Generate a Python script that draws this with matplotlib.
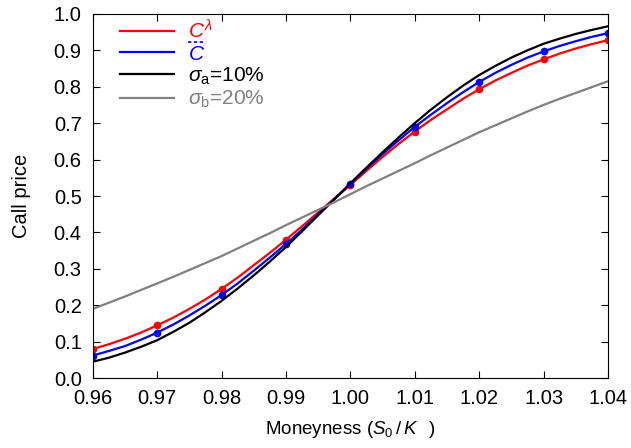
import matplotlib
matplotlib.use("Agg")
import matplotlib.pyplot as plt
from matplotlib.lines import Line2D
from matplotlib.ticker import FormatStrFormatter

plt.rcParams["font.family"] = ["Liberation Sans", "DejaVu Sans"]
plt.rcParams["mathtext.fontset"] = "custom"
plt.rcParams["mathtext.rm"] = "Liberation Sans"
plt.rcParams["mathtext.it"] = "Liberation Sans:italic"
plt.rcParams["mathtext.bf"] = "Liberation Sans:bold"

# curves every 0.0025 in moneyness
moneyness = [0.9600, 0.9625, 0.9650, 0.9675, 0.9700, 0.9725, 0.9750, 0.9775,
             0.9800, 0.9825, 0.9850, 0.9875, 0.9900, 0.9925, 0.9950, 0.9975,
             1.0000, 1.0025, 1.0050, 1.0075, 1.0100, 1.0125, 1.0150, 1.0175,
             1.0200, 1.0225, 1.0250, 1.0275, 1.0300, 1.0325, 1.0350, 1.0375,
             1.0400]
c_lambda = [0.080, 0.093, 0.108, 0.125, 0.145, 0.166, 0.190, 0.216,
            0.245, 0.276, 0.310, 0.344, 0.380, 0.417, 0.455, 0.493,
            0.530, 0.569, 0.607, 0.643, 0.677, 0.709, 0.738, 0.767,
            0.793, 0.817, 0.838, 0.858, 0.875, 0.891, 0.905, 0.917,
            0.928]
c_bar = [0.062, 0.0745, 0.088, 0.1055, 0.125, 0.147, 0.172, 0.199,
         0.228, 0.260, 0.295, 0.331, 0.368, 0.408, 0.450, 0.491,
         0.533, 0.575, 0.615, 0.653, 0.690, 0.723, 0.755, 0.785,
         0.813, 0.838, 0.860, 0.880, 0.897, 0.912, 0.925, 0.937,
         0.947]
sigma_a = [0.045, 0.056, 0.070, 0.086, 0.104, 0.127, 0.152, 0.181,
           0.212, 0.246, 0.282, 0.320, 0.360, 0.403, 0.447, 0.491,
           0.535, 0.578, 0.620, 0.661, 0.700, 0.737, 0.771, 0.803,
           0.832, 0.857, 0.880, 0.900, 0.918, 0.932, 0.945, 0.956,
           0.966]
sigma_b = [0.190, 0.207, 0.224, 0.242, 0.260, 0.278, 0.297, 0.316,
           0.335, 0.356, 0.377, 0.398, 0.420, 0.441, 0.462, 0.483,
           0.505, 0.527, 0.548, 0.569, 0.590, 0.612, 0.633, 0.654,
           0.675, 0.694, 0.713, 0.732, 0.750, 0.767, 0.783, 0.799,
           0.815]

# marked points at each 0.01
mark_x = moneyness[::4]
mark_lambda = c_lambda[::4]
mark_bar = c_bar[::4]

fig = plt.figure(figsize=(6.31, 4.48), dpi=100)
ax = fig.add_axes([0.147, 0.156, 0.8165, 0.813])

l1, = ax.plot(moneyness, c_lambda, color="#ff0000", lw=1.6,
              label=r"$C^{\lambda}$")
ax.plot(mark_x, mark_lambda, "o", color="#ff0000", ms=4.5)
l2, = ax.plot(moneyness, c_bar, color="#0000ff", lw=1.6, label=r"$C$")
ax.plot(mark_x, mark_bar, "o", color="#0000ff", ms=4.5)
l3, = ax.plot(moneyness, sigma_a, color="black", lw=1.6,
              label=r"$\sigma_{\rm a}$=10%")
l4, = ax.plot(moneyness, sigma_b, color="#808080", lw=1.6,
              label=r"$\sigma_{\rm b}$=20%")

ax.set_xlim(0.96, 1.04)
ax.set_ylim(0.0, 1.0)
ax.set_xticks([0.96 + 0.01 * i for i in range(9)])
ax.set_yticks([0.1 * i for i in range(11)])
ax.xaxis.set_major_formatter(FormatStrFormatter("%.2f"))
ax.yaxis.set_major_formatter(FormatStrFormatter("%.1f"))
ax.tick_params(direction="in", top=True, right=True, length=5,
               labelsize=14.5, pad=8)
ax.set_xlabel(r"Moneyness ($S_0\,/\,K\;\;\;$)", fontsize=13.5, labelpad=8)
ax.set_ylabel("Call price", fontsize=14.5, labelpad=16)

leg = ax.legend(handles=[l1, l2, l3, l4], loc="upper left",
                bbox_to_anchor=(0.052, 0.985), frameon=False,
                fontsize=15, handlelength=2.6, labelspacing=0.1,
                borderaxespad=0.0, borderpad=0.0, handletextpad=0.7,
                labelcolor="linecolor")

# dashed bar over the blue C, as in the original legend
fig.canvas.draw()
bb = leg.get_texts()[1].get_window_extent()
W, H = fig.get_size_inches() * fig.dpi
ybar = (bb.y1 + 3) / H
fig.add_artist(Line2D([bb.x0 / W, bb.x1 / W], [ybar, ybar],
                      transform=fig.transFigure, color="#0000ff",
                      lw=1.2, ls=(0, (2, 1.5))))

fig.savefig("out.png", dpi=100)
